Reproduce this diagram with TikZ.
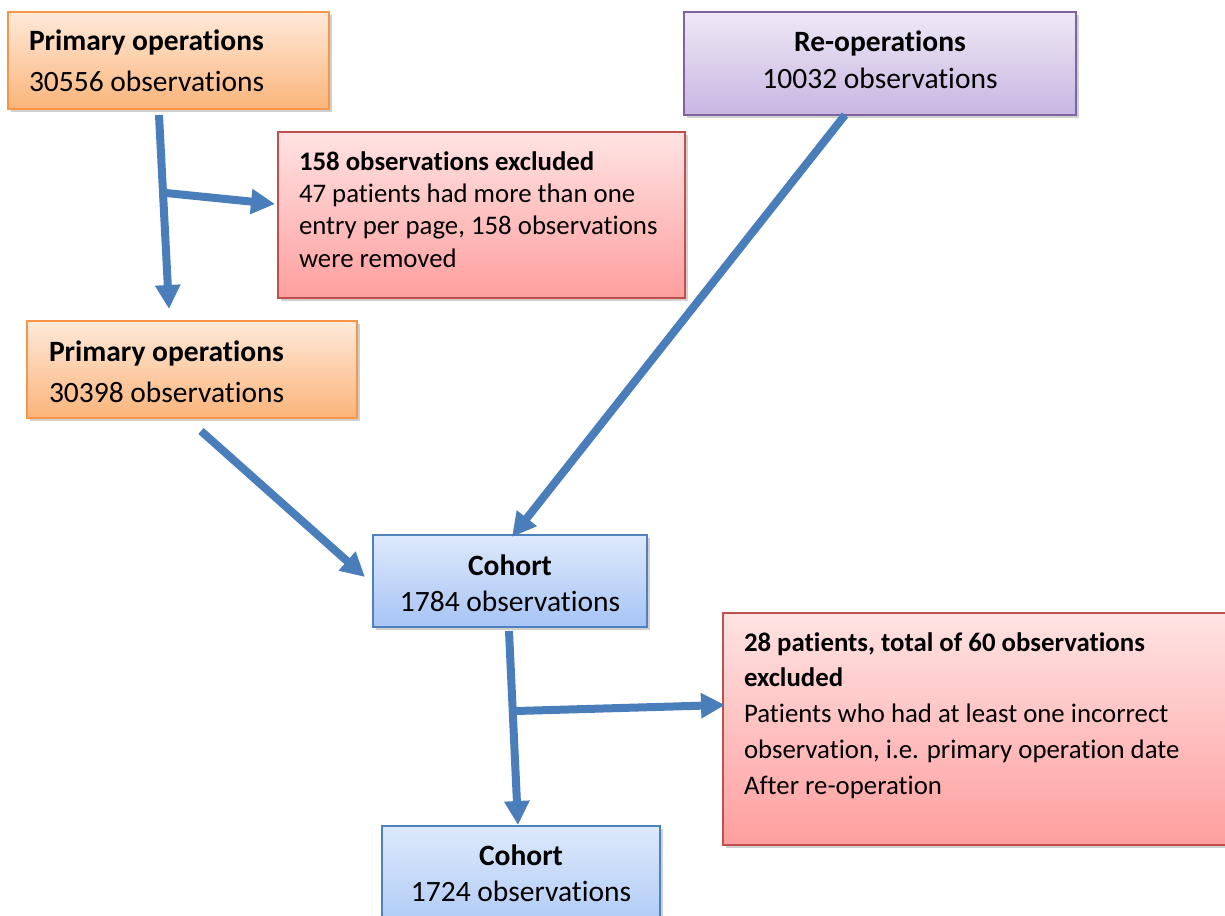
\documentclass[tikz,border=0pt]{standalone}
\usepackage{fontspec}
\setmainfont{Carlito}[Ligatures=NoCommon]
\usetikzlibrary{arrows.meta,shadows}
\definecolor{orbord}{HTML}{F79646}
\definecolor{ortop}{HTML}{FEE9DA}
\definecolor{orbot}{HTML}{FBB47A}
\definecolor{pubord}{HTML}{8064A2}
\definecolor{putop}{HTML}{EEE9F6}
\definecolor{pubot}{HTML}{C8B5E1}
\definecolor{rdbord}{HTML}{C0504D}
\definecolor{rdtop}{HTML}{FFE3E3}
\definecolor{rdbot}{HTML}{FF9E9E}
\definecolor{blbord}{HTML}{4F81BD}
\definecolor{bltop}{HTML}{DDE9FB}
\definecolor{blbot}{HTML}{A6C4F5}
\definecolor{arrowblue}{HTML}{4A7EBB}
\newcommand\boxbody[5]{\parbox[c][#1][t]{#2}{#3\rule{0pt}{#4}#5}}
\newcommand\leftfmt[2]{\raggedright\leftskip=#1\relax#2}
\tikzset{
  flowbox/.style={draw, line width=1.4pt, inner sep=0pt, outer sep=0pt, anchor=north west,
    drop shadow={shadow xshift=2.5pt, shadow yshift=-3pt, opacity=0.3, fill=black!60}},
  orangebox/.style={flowbox, draw=orbord, top color=ortop, bottom color=orbot},
  purplebox/.style={flowbox, draw=pubord, top color=putop, bottom color=pubot},
  redbox/.style={flowbox, draw=rdbord, top color=rdtop, bottom color=rdbot},
  bluebox/.style={flowbox, draw=blbord, top color=bltop, bottom color=blbot},
  flowarrow/.style={draw=arrowblue, line width=8pt, -{Triangle[length=24pt,width=24pt]}},
}
\begin{document}
\begin{tikzpicture}[x=1pt,y=-1pt]
\useasboundingbox (0,0) rectangle (1225,915);
\clip (0,0) rectangle (1225,915);
\fill[white] (0,0) rectangle (1225,915);

% boxes
\node[orangebox] (pri1) at (8,12)
  {\boxbody{97pt}{321pt}{\leftfmt{21pt}{\fontsize{29.5}{41}\selectfont}}{39pt}{\textbf{Primary operations}\\30556 observations}};
\node[purplebox] (reop) at (684,12)
  {\boxbody{103pt}{392pt}{\centering\fontsize{29.5}{37}\selectfont}{40pt}{\textbf{Re-operations}\\10032 observations}};
\node[redbox] (ex1) at (278,132)
  {\boxbody{166pt}{407pt}{\leftfmt{21pt}{\fontsize{26.8}{32.4}\selectfont}}{38pt}{\textbf{158 observations excluded}\\47 patients had more than one\\entry per page, 158 observations\\were removed}};
\node[orangebox] (pri2) at (27,321)
  {\boxbody{97pt}{330pt}{\leftfmt{22pt}{\fontsize{29.5}{41}\selectfont}}{40pt}{\textbf{Primary operations}\\30398 observations}};
\node[bluebox] (coh1) at (373,535)
  {\boxbody{92pt}{274pt}{\centering\fontsize{29.5}{36}\selectfont}{40pt}{\textbf{Cohort}\\1784 observations}};
\node[redbox] (ex2) at (723,613)
  {\boxbody{232pt}{530pt}{\leftfmt{21pt}{\fontsize{26.8}{35.8}\selectfont}}{38pt}{\textbf{28 patients, total of 60 observations}\\\textbf{excluded}\\Patients who had at least one incorrect\\observation, i.e. primary operation date\\After re-operation}};
\node[bluebox] (coh2) at (382,826)
  {\boxbody{120pt}{278pt}{\centering\fontsize{29.5}{36}\selectfont}{39pt}{\textbf{Cohort}\\1724 observations}};

% connector end points
\coordinate (a0) at (159,115);
\coordinate (a1) at (169,309);
\coordinate (ab) at (166,193);
\coordinate (ae) at (275,204);
\coordinate (b0) at (845,115);
\coordinate (b1) at (512,537);
\coordinate (c0) at (201,431);
\coordinate (c1) at (365,577);
\coordinate (d0) at (509,631);
\coordinate (d1) at (518,825);
\coordinate (db) at (516,711);
\coordinate (de) at (725,705);

% connectors
\draw[flowarrow] (a0) -- (a1);
\draw[flowarrow] (ab) -- (ae);
\draw[flowarrow] (b0) -- (b1);
\draw[flowarrow] (c0) -- (c1);
\draw[flowarrow] (d0) -- (d1);
\draw[flowarrow] (db) -- (de);
\end{tikzpicture}
\end{document}
